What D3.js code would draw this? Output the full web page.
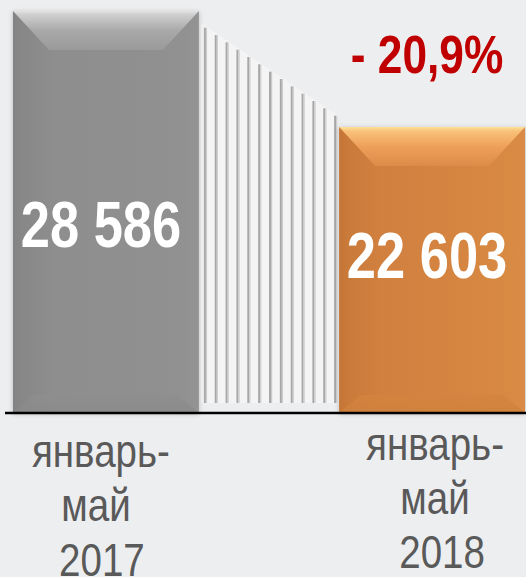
<!DOCTYPE html>
<html>
<head>
<meta charset="utf-8">
<script src="https://cdn.jsdelivr.net/npm/d3@7/dist/d3.min.js"></script>
<style>
  html, body { margin: 0; padding: 0; background: #edeef0; }
  svg { display: block; }
</style>
</head>
<body>
<script>
// ---- data ----
const categories = ["январь-май 2017", "январь-май 2018"];
const categoryLines = [["январь-", "май", "2017"], ["январь-", "май", "2018"]];
const values = [28586, 22603];
const changeText = "- 20,9%";

// ---- setup ----
const W = 526, H = 577;
const svg = d3.select("body").append("svg").attr("width", W).attr("height", H);
const baseY = 413;

const x = d3.scaleBand().domain(categories).range([13, 525]).paddingInner(0.43).paddingOuter(0);
const y = d3.scaleLinear().domain([7850, 28586]).range([baseY, 11]);

const ruLocale = d3.formatLocale({ decimal: ",", thousands: " ", grouping: [3], currency: ["", ""] });
const fmt = ruLocale.format(",d");

const defs = svg.append("defs");
const sh = defs.append("filter").attr("id", "shadow").attr("x", "-10%").attr("y", "-10%").attr("width", "120%").attr("height", "120%");
sh.append("feDropShadow").attr("dx", 0).attr("dy", 1).attr("stdDeviation", 2.5).attr("flood-color", "#000").attr("flood-opacity", 0.22);

function lin(id, stops, vertical) {
  const g = defs.append("linearGradient").attr("id", id)
    .attr("x1", 0).attr("y1", 0).attr("x2", vertical ? 0 : 1).attr("y2", vertical ? 1 : 0);
  stops.forEach(s => g.append("stop").attr("offset", s[0]).attr("stop-color", s[1]));
}
const palettes = [
  { body: [[0, "#838383"], [0.04, "#878787"], [0.22, "#8e8e8e"], [0.85, "#909090"], [1, "#939393"]],
    top: [[0, "#e4e4e4"], [0.08, "#d0d0d0"], [0.5, "#a9a9a9"], [1, "#9a9a9a"]],
    bottom: [[0, "#8e8e8e"], [1, "#8a8a8a"]] },
  { body: [[0, "#c47535"], [0.04, "#c97a3a"], [0.22, "#d1803f"], [0.85, "#d78842"], [1, "#da8b45"]],
    top: [[0, "#fde29a"], [0.1, "#f9c27a"], [0.5, "#eea05a"], [1, "#dc8c48"]],
    bottom: [[0, "#d3843f"], [1, "#d0813b"]] }
];
palettes.forEach((p, i) => {
  lin("body" + i, p.body, false);
  lin("top" + i, p.top, true);
  lin("bottom" + i, p.bottom, true);
});

// ---- connector (striped) ----
const x0 = x(categories[0]) + x.bandwidth() + 2;
const x1 = x(categories[1]) - 2;
const cTop0 = y(values[0]) + 12, cTop1 = y(values[1]) - 12;
const cBottom = baseY - 10;
const conn = svg.append("g");
conn.append("path")
  .attr("d", `M${x0},${cTop0} L${x1},${cTop1} L${x1},${cBottom} L${x0},${cBottom} Z`)
  .attr("fill", "#f4f4f5");
const nStripes = 13;
const sx = d3.scaleLinear().domain([0, nStripes - 1]).range([x0 + 4, x1 - 2]);
const topAt = xx => cTop0 + (cTop1 - cTop0) * (xx - x0) / (x1 - x0);
d3.range(nStripes).forEach(i => {
  const xx = sx(i);
  conn.append("rect").attr("x", xx - 1).attr("y", topAt(xx) + 2).attr("width", 2)
    .attr("height", cBottom - topAt(xx) - 2).attr("fill", "#a8a8a8");
  conn.append("rect").attr("x", xx + 1).attr("y", topAt(xx) + 2).attr("width", 1.2)
    .attr("height", cBottom - topAt(xx) - 2).attr("fill", "#cdcdcd");
});

// ---- bars ----
values.forEach((v, i) => {
  const bx0 = x(categories[i]), bx1 = bx0 + x.bandwidth();
  const by0 = y(v), by1 = baseY;
  const bt = 39, bs = 36, bb = 18;
  const g = svg.append("g").attr("filter", "url(#shadow)");
  g.append("rect").attr("x", bx0).attr("y", by0).attr("width", bx1 - bx0).attr("height", by1 - by0).attr("fill", `url(#body${i})`);
  g.append("path").attr("d", `M${bx0},${by1} L${bx0 + bs * 0.6},${by1 - bb} L${bx1 - bs * 0.6},${by1 - bb} L${bx1},${by1} Z`).attr("fill", `url(#bottom${i})`).attr("opacity", 0.8);
  g.append("path").attr("d", `M${bx0},${by0} L${bx1},${by0} L${bx1 - bs},${by0 + bt} L${bx0 + bs},${by0 + bt} Z`).attr("fill", `url(#top${i})`);
});

// ---- baseline ----
svg.append("line").attr("x1", 5).attr("x2", W).attr("y1", baseY).attr("y2", baseY)
  .attr("stroke", "#000").attr("stroke-width", 2.5);

// ---- value labels ----
const narrow = 0.82;
const valueLabelY = [247, 278];
values.forEach((v, i) => {
  const cx = x(categories[i]) + x.bandwidth() / 2 - 5;
  svg.append("g").attr("transform", `translate(${cx},${valueLabelY[i]}) scale(${narrow},1)`)
    .append("text").attr("text-anchor", "middle")
    .attr("font-family", "'Liberation Sans', Arial, sans-serif").attr("font-weight", "bold")
    .attr("font-size", 64).attr("fill", "#ffffff").text(fmt(v));
});

// ---- change label ----
svg.append("g").attr("transform", `translate(427,73) scale(${narrow},1)`)
  .append("text").attr("text-anchor", "middle")
  .attr("font-family", "'Liberation Sans', Arial, sans-serif").attr("font-weight", "bold")
  .attr("font-size", 54).attr("fill", "#c00000").text(changeText);

// ---- category labels ----
const catY = [[467, 521, 576], [460, 514, 568]];
const catDx = [[-5, -10, -4], [3, 3, 10]];
categoryLines.forEach((lines, i) => {
  const cx = x(categories[i]) + x.bandwidth() / 2;
  lines.forEach((t, j) => {
    svg.append("g").attr("transform", `translate(${cx + catDx[i][j]},${catY[i][j]}) scale(${narrow},1)`)
      .append("text").attr("text-anchor", "middle")
      .attr("font-family", "'Liberation Sans', Arial, sans-serif")
      .attr("font-size", 47).attr("fill", "#595959").text(t);
  });
});
</script>
</body>
</html>
